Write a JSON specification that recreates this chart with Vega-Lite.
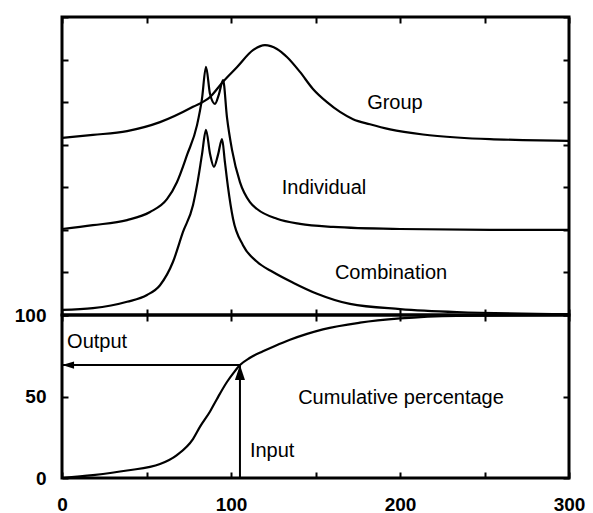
{
  "$schema": "https://vega.github.io/schema/vega-lite/v6.json",
  "padding": {"left": 12, "top": 14, "right": 5, "bottom": 0},
  "spacing": 0,
  "bounds": "flush",
  "config": {
    "view": {"stroke": "black", "strokeWidth": 3},
    "axis": {"grid": false, "domain": false, "tickSize": 6, "tickWidth": 2, "tickColor": "black", "labelFont": "Liberation Sans", "labelFontSize": 19, "labelFontWeight": "bold", "labelColor": "black", "labelFlush": false, "labelOverlap": false, "minExtent": 0}
  },
  "datasets": {
    "top": [
      {"series": "Group", "x": 0, "y": 4.16}, {"series": "Group", "x": 18.3, "y": 4.23}, {"series": "Group", "x": 38.5, "y": 4.32}, {"series": "Group", "x": 58.0, "y": 4.53}, {"series": "Group", "x": 77.5, "y": 4.89}, {"series": "Group", "x": 87.6, "y": 5.12}, {"series": "Group", "x": 95.3, "y": 5.48}, {"series": "Group", "x": 103.5, "y": 5.82}, {"series": "Group", "x": 113.0, "y": 6.22}, {"series": "Group", "x": 120.1, "y": 6.34}, {"series": "Group", "x": 127.2, "y": 6.25}, {"series": "Group", "x": 133.1, "y": 6.06}, {"series": "Group", "x": 140.8, "y": 5.71}, {"series": "Group", "x": 148.5, "y": 5.31}, {"series": "Group", "x": 156.8, "y": 5.0}, {"series": "Group", "x": 164.5, "y": 4.77}, {"series": "Group", "x": 172.2, "y": 4.6}, {"series": "Group", "x": 182.2, "y": 4.48}, {"series": "Group", "x": 194.1, "y": 4.36}, {"series": "Group", "x": 213.6, "y": 4.24}, {"series": "Group", "x": 233.7, "y": 4.17}, {"series": "Group", "x": 253.2, "y": 4.13}, {"series": "Group", "x": 272.8, "y": 4.11}, {"series": "Group", "x": 300, "y": 4.09},
      {"series": "Individual", "x": 0, "y": 2.02}, {"series": "Individual", "x": 18.3, "y": 2.11}, {"series": "Individual", "x": 38.5, "y": 2.23}, {"series": "Individual", "x": 52.1, "y": 2.42}, {"series": "Individual", "x": 62.1, "y": 2.72}, {"series": "Individual", "x": 68.0, "y": 3.12}, {"series": "Individual", "x": 74.0, "y": 3.76}, {"series": "Individual", "x": 79.9, "y": 4.46}, {"series": "Individual", "x": 82.8, "y": 5.07}, {"series": "Individual", "x": 85.2, "y": 5.83}, {"series": "Individual", "x": 87.6, "y": 5.19}, {"series": "Individual", "x": 90.5, "y": 4.96}, {"series": "Individual", "x": 92.9, "y": 5.19}, {"series": "Individual", "x": 95.3, "y": 5.52}, {"series": "Individual", "x": 97.6, "y": 4.65}, {"series": "Individual", "x": 100.6, "y": 3.88}, {"series": "Individual", "x": 105.3, "y": 3.12}, {"series": "Individual", "x": 111.2, "y": 2.65}, {"series": "Individual", "x": 115.4, "y": 2.49}, {"series": "Individual", "x": 127.2, "y": 2.26}, {"series": "Individual", "x": 140.8, "y": 2.14}, {"series": "Individual", "x": 160.4, "y": 2.07}, {"series": "Individual", "x": 200, "y": 2.02}, {"series": "Individual", "x": 253.2, "y": 2.0}, {"series": "Individual", "x": 300, "y": 2.0},
      {"series": "Combination", "x": 0, "y": 0.12}, {"series": "Combination", "x": 18.3, "y": 0.16}, {"series": "Combination", "x": 38.5, "y": 0.31}, {"series": "Combination", "x": 50.3, "y": 0.47}, {"series": "Combination", "x": 58.0, "y": 0.7}, {"series": "Combination", "x": 65.7, "y": 1.25}, {"series": "Combination", "x": 71.6, "y": 1.95}, {"series": "Combination", "x": 77.5, "y": 2.58}, {"series": "Combination", "x": 79.9, "y": 3.05}, {"series": "Combination", "x": 82.8, "y": 3.76}, {"series": "Combination", "x": 85.2, "y": 4.35}, {"series": "Combination", "x": 87.6, "y": 3.78}, {"series": "Combination", "x": 89.9, "y": 3.48}, {"series": "Combination", "x": 92.3, "y": 3.76}, {"series": "Combination", "x": 94.7, "y": 4.13}, {"series": "Combination", "x": 96.4, "y": 3.59}, {"series": "Combination", "x": 98.2, "y": 3.01}, {"series": "Combination", "x": 101.2, "y": 2.26}, {"series": "Combination", "x": 107.1, "y": 1.64}, {"series": "Combination", "x": 115.4, "y": 1.25}, {"series": "Combination", "x": 124.8, "y": 1.01}, {"series": "Combination", "x": 136.7, "y": 0.76}, {"series": "Combination", "x": 150.9, "y": 0.5}, {"series": "Combination", "x": 170.4, "y": 0.26}, {"series": "Combination", "x": 200, "y": 0.14}, {"series": "Combination", "x": 233.7, "y": 0.07}, {"series": "Combination", "x": 300, "y": 0.02}
    ],
    "labelsTop": [
      {"label": "Group", "x": 197, "y": 4.98},
      {"label": "Individual", "x": 155, "y": 2.98},
      {"label": "Combination", "x": 194.7, "y": 0.99}
    ],
    "cum": [
      {"x": 0, "y": 0}, {"x": 18.3, "y": 1.8}, {"x": 38.5, "y": 4.6}, {"x": 58.0, "y": 8.6}, {"x": 68.0, "y": 14.1}, {"x": 77.5, "y": 23.9}, {"x": 81.7, "y": 31.5}, {"x": 87.6, "y": 40.8}, {"x": 91.7, "y": 48.5}, {"x": 97.6, "y": 58.9}, {"x": 101.5, "y": 64.5}, {"x": 105.3, "y": 69.3}, {"x": 111.0, "y": 73.6}, {"x": 118.9, "y": 77.7}, {"x": 126.0, "y": 81.0}, {"x": 134.9, "y": 84.8}, {"x": 145.0, "y": 88.4}, {"x": 154.4, "y": 91.2}, {"x": 176.3, "y": 95.3}, {"x": 200, "y": 97.9}, {"x": 233.7, "y": 99.5}, {"x": 300, "y": 100}
    ],
    "arrows": [
      {"seg": "v", "x": 105.3, "y": 0}, {"seg": "v", "x": 105.3, "y": 69.3},
      {"seg": "h", "x": 105.3, "y": 69.3}, {"seg": "h", "x": 0, "y": 69.3}
    ],
    "headUp": [{"x": 105.3, "y": 64.7}],
    "headLeft": [{"x": 3.6, "y": 69.3}],
    "labelsLeft": [
      {"label": "Output", "x": 3, "y": 83.4},
      {"label": "Input", "x": 111.2, "y": 16.5}
    ],
    "labelsCenter": [
      {"label": "Cumulative percentage", "x": 200.6, "y": 49}
    ]
  },
  "vconcat": [
    {
      "width": 507,
      "height": 298,
      "layer": [
        {
          "data": {"name": "top"},
          "mark": {"type": "line", "color": "black", "strokeWidth": 2.2, "interpolate": "monotone"},
          "encoding": {
            "x": {"field": "x", "type": "quantitative", "scale": {"domain": [0, 300], "nice": false}, "axis": {"orient": "bottom", "values": [0, 50, 100, 150, 200, 250, 300], "labels": false, "title": null, "offset": -6}},
            "y": {"field": "y", "type": "quantitative", "scale": {"domain": [0, 7], "nice": false}, "axis": {"orient": "left", "values": [0, 1, 2, 3, 4, 5, 6, 7], "labels": false, "title": null, "offset": -6}},
            "detail": {"field": "series"}
          }
        },
        {
          "data": {"name": "labelsTop"},
          "mark": {"type": "text", "font": "Liberation Sans", "fontSize": 20, "color": "black", "align": "center", "baseline": "middle"},
          "encoding": {
            "x": {"field": "x", "type": "quantitative", "scale": {"domain": [0, 300], "nice": false}, "axis": {"orient": "top", "values": [0, 50, 100, 150, 200, 250, 300], "labels": false, "title": null, "offset": -6}},
            "y": {"field": "y", "type": "quantitative", "scale": {"domain": [0, 7], "nice": false}, "axis": {"orient": "right", "values": [0, 1, 2, 3, 4, 5, 6, 7], "labels": false, "title": null, "offset": -6}},
            "text": {"field": "label"}
          }
        }
      ],
      "resolve": {"axis": {"x": "independent", "y": "independent"}}
    },
    {
      "width": 507,
      "height": 163,
      "layer": [
        {
          "data": {"name": "cum"},
          "mark": {"type": "line", "color": "black", "strokeWidth": 2.2, "interpolate": "monotone"},
          "encoding": {
            "x": {"field": "x", "type": "quantitative", "scale": {"domain": [0, 300], "nice": false}, "axis": {"orient": "bottom", "values": [0, 50, 100, 150, 200, 250, 300], "labelExpr": "datum.value % 100 === 0 ? datum.label : ''", "labelPadding": 17, "title": null, "offset": -6}},
            "y": {"field": "y", "type": "quantitative", "scale": {"domain": [0, 100], "nice": false}, "axis": {"orient": "left", "values": [0, 50, 100], "labelPadding": 16, "title": null, "offset": -6}}
          }
        },
        {
          "data": {"name": "arrows"},
          "mark": {"type": "line", "color": "black", "strokeWidth": 2},
          "encoding": {
            "x": {"field": "x", "type": "quantitative", "scale": {"domain": [0, 300], "nice": false}, "axis": {"orient": "top", "values": [0, 50, 100, 150, 200, 250, 300], "labels": false, "title": null, "offset": -6}},
            "y": {"field": "y", "type": "quantitative", "scale": {"domain": [0, 100], "nice": false}, "axis": {"orient": "right", "values": [0, 50, 100], "labels": false, "title": null, "offset": -6}},
            "detail": {"field": "seg"}
          }
        },
        {
          "data": {"name": "headUp"},
          "mark": {"type": "point", "shape": "M0,-1L0.67,1L-0.67,1Z", "size": 225, "filled": true, "color": "black", "opacity": 1},
          "encoding": {
            "x": {"field": "x", "type": "quantitative", "scale": {"domain": [0, 300], "nice": false}, "axis": null},
            "y": {"field": "y", "type": "quantitative", "scale": {"domain": [0, 100], "nice": false}, "axis": null}
          }
        },
        {
          "data": {"name": "headLeft"},
          "mark": {"type": "point", "shape": "M-1,0L1,-0.6L1,0.6Z", "size": 144, "filled": true, "color": "black", "opacity": 1},
          "encoding": {
            "x": {"field": "x", "type": "quantitative", "scale": {"domain": [0, 300], "nice": false}, "axis": null},
            "y": {"field": "y", "type": "quantitative", "scale": {"domain": [0, 100], "nice": false}, "axis": null}
          }
        },
        {
          "data": {"name": "labelsLeft"},
          "mark": {"type": "text", "font": "Liberation Sans", "fontSize": 20, "color": "black", "align": "left", "baseline": "middle"},
          "encoding": {
            "x": {"field": "x", "type": "quantitative", "scale": {"domain": [0, 300], "nice": false}, "axis": null},
            "y": {"field": "y", "type": "quantitative", "scale": {"domain": [0, 100], "nice": false}, "axis": null},
            "text": {"field": "label"}
          }
        },
        {
          "data": {"name": "labelsCenter"},
          "mark": {"type": "text", "font": "Liberation Sans", "fontSize": 20, "color": "black", "align": "center", "baseline": "middle"},
          "encoding": {
            "x": {"field": "x", "type": "quantitative", "scale": {"domain": [0, 300], "nice": false}, "axis": null},
            "y": {"field": "y", "type": "quantitative", "scale": {"domain": [0, 100], "nice": false}, "axis": null},
            "text": {"field": "label"}
          }
        }
      ],
      "resolve": {"axis": {"x": "independent", "y": "independent"}}
    }
  ]
}
